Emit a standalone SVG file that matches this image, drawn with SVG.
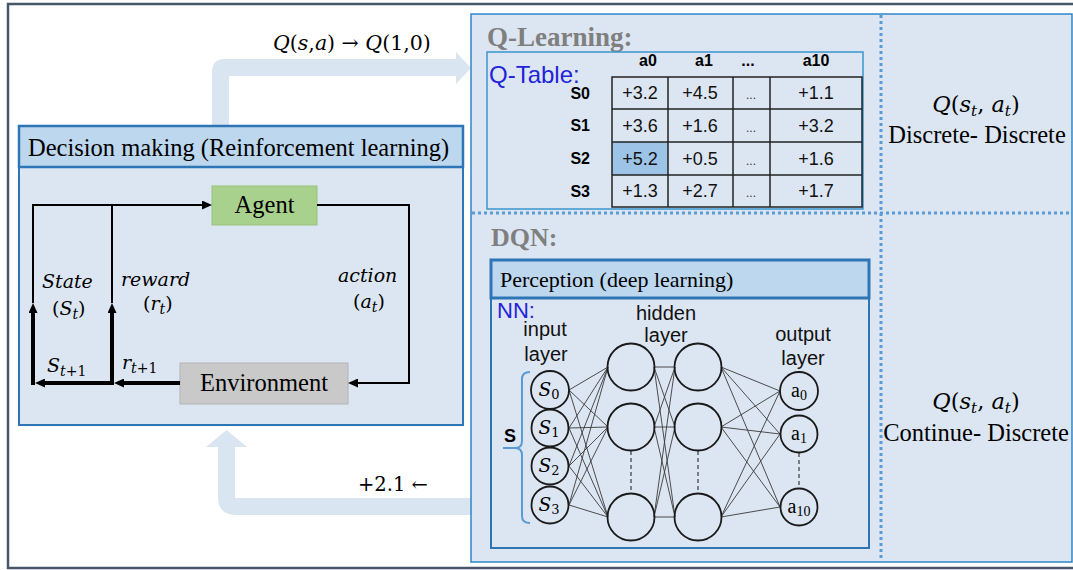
<svg xmlns="http://www.w3.org/2000/svg" width="1073" height="570" viewBox="0 0 1073 570">
  <defs>
    <style>
      .panel{fill:#dce6f2;stroke:#2e86c8;stroke-width:1.5}
      .hdr{fill:#bdd7ee;stroke:#2e75b6;stroke-width:2.5}
      .body{fill:#dce6f2;stroke:#2e75b6;stroke-width:2}
      .serif{font-family:"Liberation Serif",serif}
      .math{font-family:"DejaVu Serif",serif;font-style:italic}
      .up{font-style:normal}
      .sans{font-family:"Liberation Sans",sans-serif}
      .wire{stroke:#000;fill:none;stroke-width:2}
      .thick{stroke-width:4}
      .nn{stroke:#3a3a3a;stroke-width:0.9}
      .neuron{fill:none;stroke:#1a1a1a;stroke-width:1.8}
      .dots{stroke:#5b9bd5;stroke-width:3;stroke-dasharray:3 3;fill:none}
      .flow{fill:#dae5f2}
      .cell{fill:none;stroke:#222;stroke-width:1.5}
      .val{font-family:"Liberation Sans",sans-serif;font-size:18px;text-anchor:middle;fill:#111}
      .ell{font-family:"Liberation Sans",sans-serif;font-size:12px;text-anchor:middle;fill:#333}
      .head{font-family:"Liberation Sans",sans-serif;font-size:16px;font-weight:bold;text-anchor:middle}
      .rowlab{font-family:"Liberation Sans",sans-serif;font-size:16px;font-weight:bold;text-anchor:end}
      .lab{font-family:"Liberation Sans",sans-serif;font-size:20px;text-anchor:middle;fill:#111}
      .gray{font-family:"Liberation Serif",serif;font-weight:bold;fill:#7f7f7f}
      .blue{font-family:"Liberation Sans",sans-serif;fill:#2323d8}
    </style>
    <marker id="ah" markerUnits="userSpaceOnUse" markerWidth="10" markerHeight="9" refX="0" refY="4.5" orient="auto">
      <path d="M0,0 L10,4.5 L0,9 z" fill="#000"/>
    </marker>
  </defs>

  <rect width="1073" height="570" fill="#fff"/>
  <!-- outer frame -->
  <rect x="8" y="4" width="1070" height="564" fill="none" stroke="#48566a" stroke-width="2.5"/>

  <!-- wide flow arrows between the two halves -->
  <g id="flows">
    <path class="flow" d="M212,130 L212,72 Q212,59 225,59 L456,59 L456,52 L471,68 L456,84 L456,76 L229,76 L229,130 Z"/>
    <path class="flow" d="M471,498 L235,498 L235,447 L247,447 L226.5,430 L206,447 L218,447 L218,497 Q218,515 236,515 L471,515 Z"/>
    <text class="math" x="273" y="50" font-size="20.5">Q<tspan class="up">(</tspan>s<tspan class="up">,</tspan>a<tspan class="up">) → </tspan>Q<tspan class="up">(1,0)</tspan></text>
    <text class="math up" x="358" y="491" font-size="19.5" style="font-style:normal">+2.1 ←</text>
  </g>

  <!-- right panel: Q-learning / DQN -->
  <g id="value-panel">
    <rect class="panel" x="471" y="14" width="601" height="548"/>
    <line class="dots" x1="881" y1="15" x2="881" y2="561"/>
    <line class="dots" x1="472" y1="213" x2="1071" y2="213"/>
    <text class="math" x="976" y="112" font-size="22.5" text-anchor="middle">Q<tspan class="up">(</tspan>s<tspan font-size="15" dy="4">t</tspan><tspan class="up" dy="-4">, </tspan>a<tspan font-size="15" dy="4">t</tspan><tspan class="up" dy="-4">)</tspan></text>
    <text class="serif" x="977" y="143" font-size="24.5" text-anchor="middle">Discrete- Discrete</text>
    <text class="math" x="976" y="409" font-size="22.5" text-anchor="middle">Q<tspan class="up">(</tspan>s<tspan font-size="15" dy="4">t</tspan><tspan class="up" dy="-4">, </tspan>a<tspan font-size="15" dy="4">t</tspan><tspan class="up" dy="-4">)</tspan></text>
    <text class="serif" x="976" y="441" font-size="24.5" text-anchor="middle">Continue- Discrete</text>
  </g>

  <g id="q-learning">
    <text class="gray" x="487" y="46" font-size="27">Q-Learning:</text>
    <rect x="487" y="52" width="376" height="157" fill="none" stroke="#3b95cf" stroke-width="1.5"/>
    <text class="blue" x="489" y="83" font-size="24">Q-Table:</text>
    <rect x="612" y="142" width="56" height="33" fill="#9dc3e6"/>
    <g id="q-table">
      <rect class="cell" x="612" y="77" width="250" height="130"/>
      <line class="cell" x1="668" y1="77" x2="668" y2="207"/>
      <line class="cell" x1="733" y1="77" x2="733" y2="207"/>
      <line class="cell" x1="770" y1="77" x2="770" y2="207"/>
      <line class="cell" x1="612" y1="109" x2="862" y2="109"/>
      <line class="cell" x1="612" y1="142" x2="862" y2="142"/>
      <line class="cell" x1="612" y1="175" x2="862" y2="175"/>
      <text class="head" x="648" y="66">a0</text>
      <text class="head" x="704" y="66">a1</text>
      <text class="head" x="748" y="66">...</text>
      <text class="head" x="816" y="66">a10</text>
      <text class="rowlab" x="590" y="99">S0</text>
      <text class="rowlab" x="590" y="131">S1</text>
      <text class="rowlab" x="590" y="164">S2</text>
      <text class="rowlab" x="590" y="197">S3</text>
      <text class="val" x="640" y="99">+3.2</text><text class="val" x="700" y="99">+4.5</text><text class="ell" x="751" y="99">...</text><text class="val" x="816" y="99">+1.1</text>
      <text class="val" x="640" y="132">+3.6</text><text class="val" x="700" y="132">+1.6</text><text class="ell" x="751" y="132">...</text><text class="val" x="816" y="132">+3.2</text>
      <text class="val" x="640" y="165">+5.2</text><text class="val" x="700" y="165">+0.5</text><text class="ell" x="751" y="165">...</text><text class="val" x="816" y="165">+1.6</text>
      <text class="val" x="640" y="197">+1.3</text><text class="val" x="700" y="197">+2.7</text><text class="ell" x="751" y="197">...</text><text class="val" x="816" y="197">+1.7</text>
    </g>
  </g>

  <g id="dqn">
    <text class="gray" x="491" y="246" font-size="26">DQN:</text>
    <rect class="body" x="491" y="298" width="378" height="250"/>
    <rect x="491" y="260" width="378" height="38" fill="#bdd7ee" stroke="#2e75b6" stroke-width="3"/>
    <text class="serif" x="500" y="287" font-size="22">Perception (deep learning)</text>
    <text class="blue" x="497" y="318" font-size="22">NN:</text>
    <text class="lab" x="545" y="336">input</text>
    <text class="lab" x="546" y="361">layer</text>
    <text class="lab" x="666" y="320">hidden</text>
    <text class="lab" x="666" y="342">layer</text>
    <text class="lab" x="803" y="341">output</text>
    <text class="lab" x="803" y="365">layer</text>
    <path d="M530,372 Q522,372 522,379 L522,441 Q522,448 515,448 L503,448 M515,448 Q522,448 522,455 L522,516 Q522,523 530,523" fill="none" stroke="#5b9bd5" stroke-width="2"/>
    <text class="sans" x="504" y="442" font-size="18" font-weight="bold">S</text>
  </g>

  <!-- network weights -->
  <g id="nn-links" class="nn">
    <line x1="569" y1="390" x2="608" y2="367"/><line x1="569" y1="390" x2="608" y2="427"/><line x1="569" y1="390" x2="608" y2="517"/>
    <line x1="569" y1="428" x2="608" y2="367"/><line x1="569" y1="428" x2="608" y2="427"/><line x1="569" y1="428" x2="608" y2="517"/>
    <line x1="569" y1="466" x2="608" y2="367"/><line x1="569" y1="466" x2="608" y2="427"/><line x1="569" y1="466" x2="608" y2="517"/>
    <line x1="569" y1="505" x2="608" y2="367"/><line x1="569" y1="505" x2="608" y2="427"/><line x1="569" y1="505" x2="608" y2="517"/>
    <line x1="654" y1="367" x2="675" y2="367"/><line x1="654" y1="367" x2="675" y2="427"/><line x1="654" y1="367" x2="675" y2="517"/>
    <line x1="654" y1="427" x2="675" y2="367"/><line x1="654" y1="427" x2="675" y2="427"/><line x1="654" y1="427" x2="675" y2="517"/>
    <line x1="654" y1="517" x2="675" y2="367"/><line x1="654" y1="517" x2="675" y2="427"/><line x1="654" y1="517" x2="675" y2="517"/>
    <line x1="721" y1="367" x2="780" y2="391"/><line x1="721" y1="367" x2="780" y2="434"/><line x1="721" y1="367" x2="780" y2="507"/>
    <line x1="721" y1="427" x2="780" y2="391"/><line x1="721" y1="427" x2="780" y2="434"/><line x1="721" y1="427" x2="780" y2="507"/>
    <line x1="721" y1="517" x2="780" y2="391"/><line x1="721" y1="517" x2="780" y2="434"/><line x1="721" y1="517" x2="780" y2="507"/>
    <g stroke-dasharray="4 3" stroke-width="1.2">
      <line x1="631" y1="451" x2="631" y2="493"/>
      <line x1="698" y1="451" x2="698" y2="493"/>
      <line x1="799" y1="453" x2="799" y2="488"/>
    </g>
  </g>

  <g id="nn-nodes">
    <g id="in0"><circle class="neuron" cx="550" cy="390" r="19"/><text class="math" x="549" y="396" font-size="18.5" text-anchor="middle">S<tspan class="up" font-size="13" dy="3">0</tspan></text></g>
    <g id="in1"><circle class="neuron" cx="550" cy="428" r="18.5"/><text class="math" x="549" y="434" font-size="18.5" text-anchor="middle">S<tspan class="up" font-size="13" dy="3">1</tspan></text></g>
    <g id="in2"><circle class="neuron" cx="550" cy="466" r="18.5"/><text class="math" x="549" y="472" font-size="18.5" text-anchor="middle">S<tspan class="up" font-size="13" dy="3">2</tspan></text></g>
    <g id="in3"><circle class="neuron" cx="550" cy="505" r="18.5"/><text class="math" x="549" y="511" font-size="18.5" text-anchor="middle">S<tspan class="up" font-size="13" dy="3">3</tspan></text></g>
    <g id="h1a"><circle class="neuron" cx="631" cy="367" r="23.5"/></g>
    <g id="h1b"><circle class="neuron" cx="631" cy="427" r="23.5"/></g>
    <g id="h1c"><circle class="neuron" cx="631" cy="517" r="23.5"/></g>
    <g id="h2a"><circle class="neuron" cx="698" cy="367" r="23.5"/></g>
    <g id="h2b"><circle class="neuron" cx="698" cy="427" r="23.5"/></g>
    <g id="h2c"><circle class="neuron" cx="698" cy="517" r="23.5"/></g>
    <g id="out0"><circle class="neuron" cx="799" cy="391" r="19"/><text class="serif" x="799" y="397" font-size="20" text-anchor="middle">a<tspan font-size="14" dy="3">0</tspan></text></g>
    <g id="out1"><circle class="neuron" cx="799" cy="434" r="18.5"/><text class="serif" x="799" y="440" font-size="20" text-anchor="middle">a<tspan font-size="14" dy="3">1</tspan></text></g>
    <g id="out10"><circle class="neuron" cx="799" cy="507" r="18.5"/><text class="serif" x="799" y="513" font-size="20" text-anchor="middle">a<tspan font-size="14" dy="3">10</tspan></text></g>
  </g>

  <!-- reinforcement learning loop -->
  <g id="decision-making">
    <rect class="body" x="19" y="167" width="444" height="258"/>
    <rect class="hdr" x="19" y="126" width="444" height="41"/>
    <text class="serif" x="28" y="156" font-size="24.5">Decision making (Reinforcement learning)</text>
  </g>

  <g id="agent">
    <rect x="212" y="186" width="105" height="39" fill="#a9d18e" stroke="#97c27a" stroke-width="1"/>
    <text class="serif" x="264.5" y="213" font-size="24.5" text-anchor="middle">Agent</text>
  </g>

  <g id="environment">
    <rect x="180" y="363" width="168" height="41" fill="#c9c9c9" stroke="#b3b3b3" stroke-width="1"/>
    <text class="serif" x="264" y="391" font-size="24.5" text-anchor="middle">Environment</text>
  </g>

  <g id="loop-connectors">
    <path class="wire" d="M33,303 L33,205 L202,205" marker-end="url(#ah)"/>
    <path class="wire" d="M112,303 L112,205"/>
    <path class="wire thick" d="M33,385 L33,313" marker-end="url(#ah)"/>
    <path class="wire thick" d="M112,385 L112,313" marker-end="url(#ah)"/>
    <path class="wire thick" d="M180,383 L124,383" marker-end="url(#ah)"/>
    <path class="wire thick" d="M114,383 L45,383" marker-end="url(#ah)"/>
    <path class="wire" d="M317,205 L409,205 L409,383 L358,383" marker-end="url(#ah)"/>
    <text class="math" x="42" y="288" font-size="19">State</text>
    <text class="math" x="52" y="315" font-size="19"><tspan class="up">(</tspan>S<tspan font-size="14" dy="4">t</tspan><tspan class="up" dy="-4">)</tspan></text>
    <text class="math" x="121" y="286" font-size="19">reward</text>
    <text class="math" x="143" y="310" font-size="19"><tspan class="up">(</tspan>r<tspan font-size="14" dy="4">t</tspan><tspan class="up" dy="-4">)</tspan></text>
    <text class="math" x="338" y="282" font-size="19">action</text>
    <text class="math" x="353" y="308" font-size="19"><tspan class="up">(</tspan>a<tspan font-size="14" dy="4">t</tspan><tspan class="up" dy="-4">)</tspan></text>
    <text class="math" x="47" y="372" font-size="19">S<tspan font-size="14" dy="4">t<tspan class="up">+1</tspan></tspan></text>
    <text class="math" x="122" y="369" font-size="19">r<tspan font-size="14" dy="4">t<tspan class="up">+1</tspan></tspan></text>
  </g>
</svg>
